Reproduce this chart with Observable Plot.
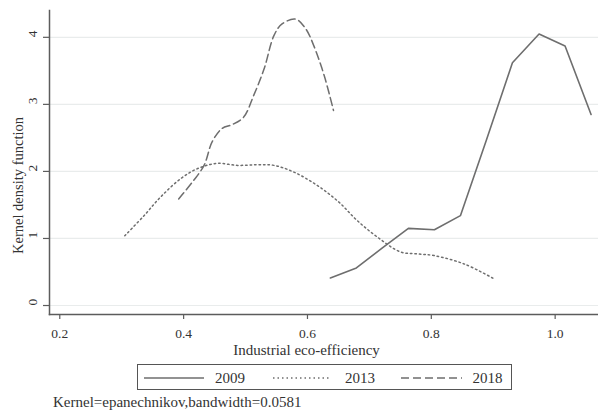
<!DOCTYPE html>
<html>
<head>
<meta charset="utf-8">
<script src="https://cdn.jsdelivr.net/npm/d3@7"></script>
<script src="https://cdn.jsdelivr.net/npm/@observablehq/plot@0.6"></script>
<style>
  html, body { margin: 0; padding: 0; background: #fff; }
  #wrap { position: relative; width: 598px; height: 417px; font-family: "Liberation Serif", "Times New Roman", serif; color: #333; }
  #legend { position: absolute; left: 136.5px; top: 364px; width: 375px; height: 26px; border: 1px solid #555; box-sizing: border-box; }
  #caption { position: absolute; left: 53px; top: 394.5px; font-size: 15px; line-height: 15px; white-space: nowrap; color: #333; }
</style>
</head>
<body>
<div id="wrap"><div id="chart"></div><div id="legend"></div><div id="caption"></div></div>
<script>
// ---- data ----
const years = ["2009", "2013", "2018"];
const x2009 = [0.637, 0.679, 0.721, 0.763, 0.805, 0.847, 0.889, 0.931, 0.974, 1.016, 1.058];
const y2009 = [0.41, 0.56, 0.86, 1.15, 1.13, 1.34, 2.47, 3.62, 4.05, 3.87, 2.85];
const x2013 = [0.305, 0.336, 0.363, 0.395, 0.422, 0.454, 0.487, 0.519, 0.546, 0.578, 0.616, 0.651, 0.680, 0.713, 0.750, 0.777, 0.804, 0.853, 0.901];
const y2013 = [1.04, 1.34, 1.62, 1.89, 2.04, 2.12, 2.09, 2.10, 2.09, 1.99, 1.79, 1.54, 1.27, 1.02, 0.80, 0.77, 0.746, 0.62, 0.40];
const x2018 = [0.392, 0.414, 0.433, 0.446, 0.462, 0.479, 0.497, 0.513, 0.530, 0.546, 0.559, 0.581, 0.597, 0.610, 0.627, 0.642];
const y2018 = [1.59, 1.84, 2.09, 2.44, 2.64, 2.70, 2.81, 3.13, 3.53, 4.03, 4.20, 4.27, 4.13, 3.88, 3.43, 2.91];
const xTicks = [0.2, 0.4, 0.6, 0.8, 1.0];
const yTicks = [0, 1, 2, 3, 4];
const xLabel = "Industrial eco-efficiency";
const yLabel = "Kernel density function";
const captionText = "Kernel=epanechnikov,bandwidth=0.0581";

const toRows = (xs, ys) => xs.map((x, i) => ({x, y: ys[i]}));
const d2009 = toRows(x2009, y2009);
const d2013 = toRows(x2013, y2013);
const d2018 = toRows(x2018, y2018);

const lineColor = "#6e6e6e";
const axisColor = "#5c5c5c";
const dashes = {"2009": null, "2013": "1.5,3", "2018": "8,4"};

const chart = Plot.plot({
  width: 598,
  height: 360,
  marginLeft: 49,
  marginRight: 0,
  marginTop: 10,
  marginBottom: 46,
  style: {fontFamily: '"Liberation Serif", "Times New Roman", serif', background: "#fff", color: "#333"},
  x: {domain: [0.1834, 1.070]},
  y: {domain: [-0.134, 4.40]},
  marks: [
    Plot.gridY(yTicks, {stroke: "#e9ecec", strokeOpacity: 1, strokeWidth: 1.2}),
    Plot.frame({anchor: "left", stroke: axisColor, strokeWidth: 1.5}),
    Plot.frame({anchor: "bottom", stroke: axisColor, strokeWidth: 1.5}),
    Plot.axisX({ticks: xTicks, tickSize: 5, tickPadding: 9, tickFormat: d3.format(".1f"), fontSize: 13.5, label: null, stroke: axisColor, strokeWidth: 1.2}),
    Plot.axisY({ticks: yTicks, tickSize: 6, tickFormat: () => "", label: null, stroke: axisColor, strokeWidth: 1.2}),
    Plot.text(yTicks, {y: d => d, text: d => String(d), frameAnchor: "left", dx: -17, rotate: -90, fontSize: 13.5, fill: "#333"}),
    Plot.text([xLabel], {frameAnchor: "bottom-left", dx: 257, dy: 40, textAnchor: "middle", lineAnchor: "bottom", fontSize: 15, fill: "#333"}),
    Plot.text([yLabel], {frameAnchor: "left", dx: -31, dy: 23, rotate: -90, textAnchor: "middle", fontSize: 14.5, fill: "#333"}),
    Plot.line(d2013, {x: "x", y: "y", stroke: lineColor, strokeWidth: 1.5, strokeDasharray: dashes["2013"], curve: "catmull-rom"}),
    Plot.line(d2018, {x: "x", y: "y", stroke: lineColor, strokeWidth: 1.5, strokeDasharray: dashes["2018"], curve: "catmull-rom"}),
    Plot.line(d2009, {x: "x", y: "y", stroke: lineColor, strokeWidth: 1.6})
  ]
});
document.getElementById("chart").appendChild(chart);

// legend
const legendItems = [
  {year: years[0], x1: 6, x2: 66, tx: 77},
  {year: years[1], x1: 135, x2: 193, tx: 207},
  {year: years[2], x1: 263, x2: 324, tx: 334.5}
];
const ns = "http://www.w3.org/2000/svg";
const lsvg = document.createElementNS(ns, "svg");
lsvg.setAttribute("width", 373); lsvg.setAttribute("height", 24);
lsvg.style.display = "block";
for (const it of legendItems) {
  const ln = document.createElementNS(ns, "line");
  ln.setAttribute("x1", it.x1); ln.setAttribute("x2", it.x2);
  ln.setAttribute("y1", 13); ln.setAttribute("y2", 13);
  ln.setAttribute("stroke", lineColor); ln.setAttribute("stroke-width", 1.5);
  if (dashes[it.year]) ln.setAttribute("stroke-dasharray", dashes[it.year]);
  lsvg.appendChild(ln);
  const t = document.createElementNS(ns, "text");
  t.setAttribute("x", it.tx); t.setAttribute("y", 18);
  t.setAttribute("font-size", 15);
  t.setAttribute("fill", "#333");
  t.setAttribute("font-family", '"Liberation Serif", "Times New Roman", serif');
  t.textContent = it.year;
  lsvg.appendChild(t);
}
document.getElementById("legend").appendChild(lsvg);
document.getElementById("caption").textContent = captionText;
</script>
</body>
</html>
